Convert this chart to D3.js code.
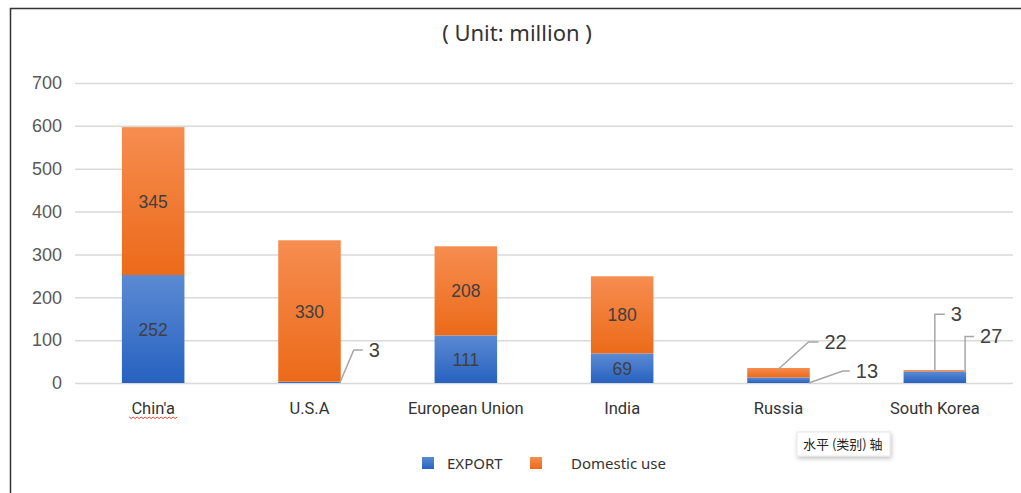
<!DOCTYPE html>
<html><head><meta charset="utf-8">
<script src="https://cdn.jsdelivr.net/npm/d3@7/dist/d3.min.js"></script>
<style>
html,body{margin:0;padding:0;background:#fff;}
svg{display:block;}
</style></head>
<body>
<svg id="chart" width="1021" height="493"></svg>
<script>
const categories = ["Chin'a", "U.S.A", "European Union", "India", "Russia", "South Korea"];
const exportValues = [252, 3, 111, 69, 13, 27];
const domesticValues = [345, 330, 208, 180, 22, 3];
const yTicks = [0, 100, 200, 300, 400, 500, 600, 700];
const seriesNames = ["EXPORT", "Domestic use"];
const titleText = "( Unit: million )";
const tooltipText = "水平 (类别) 轴";

const svg = d3.select("#chart");
const W = 1021, H = 493;
const plot = {left: 75, right: 1013, top: 83, bottom: 383};

// frame
svg.append("line").attr("x1", 10).attr("x2", W).attr("y1", 8.5).attr("y2", 8.5)
  .attr("stroke", "#333").attr("stroke-width", 1.5);
svg.append("line").attr("x1", 10.5).attr("x2", 10.5).attr("y1", 8).attr("y2", H)
  .attr("stroke", "#333").attr("stroke-width", 1.5);

const defs = svg.append("defs");
function grad(id, top, bottom) {
  const g = defs.append("linearGradient").attr("id", id)
    .attr("x1", 0).attr("y1", 0).attr("x2", 0).attr("y2", 1);
  g.append("stop").attr("offset", "0%").attr("stop-color", top);
  g.append("stop").attr("offset", "100%").attr("stop-color", bottom);
}
grad("gBlue", "#5b8ad3", "#2762c0");
grad("gOrange", "#f68d50", "#ec6a19");
const fs = defs.append("filter").attr("id", "shadow").attr("x", "-20%").attr("y", "-30%").attr("width", "140%").attr("height", "180%");
fs.append("feDropShadow").attr("dx", 1).attr("dy", 2).attr("stdDeviation", 2).attr("flood-color", "#000").attr("flood-opacity", 0.25);

const x = d3.scaleBand().domain(categories).range([plot.left, plot.right]).paddingInner(0.6).paddingOuter(0.3);
const y = d3.scaleLinear().domain([0, 700]).range([plot.bottom, plot.top]);

// title
svg.append("text").attr("x", 517).attr("y", 41).attr("text-anchor", "middle")
  .attr("font-family", "Noto Sans, sans-serif").attr("font-size", 22)
  .attr("fill", "#333").text(titleText);

// grid + y axis
const yAxis = d3.axisLeft(y).tickValues(yTicks).tickSize(-(plot.right - plot.left)).tickPadding(13);
const gy = svg.append("g").attr("transform", `translate(${plot.left},0)`).call(yAxis);
gy.select(".domain").remove();
gy.selectAll(".tick line").attr("stroke", "#d9d9d9").attr("stroke-width", 1.5);
gy.selectAll(".tick text").attr("font-family", "Liberation Sans, Arial, sans-serif")
  .attr("font-size", 18).attr("fill", "#595959");

// x labels
const gx = svg.append("g").attr("transform", `translate(0,${plot.bottom})`)
  .call(d3.axisBottom(x).tickSize(0).tickPadding(19));
gx.select(".domain").remove();
gx.selectAll(".tick text").attr("font-family", "Roboto, sans-serif").attr("font-size", 16.5).attr("fill", "#333");

// red squiggle under first label
{
  const cx = x(categories[0]) + x.bandwidth() / 2;
  const x0 = cx - 24, x1 = cx + 24, yy = plot.bottom + 34;
  let d = `M${x0},${yy}`;
  for (let xx = x0, i = 0; xx < x1; xx += 2, i++) d += ` L${xx + 2},${yy + (i % 2 ? 0 : 1.6)}`;
  svg.append("path").attr("d", d).attr("fill", "none").attr("stroke", "#e0302a").attr("stroke-width", 0.9);
}

// stacked data
const rows = categories.map((c, i) => ({cat: c, EXPORT: exportValues[i], "Domestic use": domesticValues[i]}));
const stack = d3.stack().keys(seriesNames)(rows);
const fills = {"EXPORT": "url(#gBlue)", "Domestic use": "url(#gOrange)"};

stack.forEach(layer => {
  svg.append("g").selectAll("rect").data(layer).join("rect")
    .attr("x", d => x(d.data.cat))
    .attr("width", x.bandwidth())
    .attr("y", d => y(d[1]))
    .attr("height", d => y(d[0]) - y(d[1]))
    .attr("fill", fills[layer.key]);
});

// inside labels for large segments
const labelFont = "Liberation Sans, Arial, sans-serif";
stack.forEach(layer => {
  svg.append("g").selectAll("text").data(layer.filter(d => d[1] - d[0] >= 50)).join("text")
    .attr("x", d => x(d.data.cat) + x.bandwidth() / 2)
    .attr("y", d => (y(d[0]) + y(d[1])) / 2 + 6.5)
    .attr("text-anchor", "middle").attr("font-family", labelFont)
    .attr("font-size", 17.5).attr("fill", "#404040")
    .text(d => d[1] - d[0]);
});

// callout labels for small segments
const callouts = [
  {ci: 1, li: 0, ax: 1.0, ay: "bottom", ex: 14, ey: -33, h: 9},
  {ci: 4, li: 1, ax: 0.5, ay: "top", ex: 30, ey: -27, h: 10},
  {ci: 4, li: 0, ax: 1.0, ay: "bottom", ex: 34, ey: -12, h: 7},
  {ci: 5, li: 1, ax: 0.5, ay: "top", ex: 0, ey: -57, h: 10},
  {ci: 5, li: 0, ax: 1.0, ay: "top", ex: 0, ey: -36, h: 9}
];
const cg = svg.append("g");
callouts.forEach(c => {
  const d = stack[c.li][c.ci];
  const bx = x(d.data.cat) + x.bandwidth() * c.ax - (c.ax === 1 ? 1 : 0);
  const by = c.ay === "bottom" ? y(d[0]) : y(d[1]) + 1;
  const ex = bx + c.ex, ey = by + c.ey;
  cg.append("path").attr("d", `M${bx},${by} L${ex},${ey} L${ex + c.h},${ey}`)
    .attr("fill", "none").attr("stroke", "#a6a6a6").attr("stroke-width", 1.5);
  cg.append("text").attr("x", ex + c.h + 6).attr("y", ey + 7)
    .attr("font-family", labelFont).attr("font-size", 20).attr("fill", "#404040")
    .text(d[1] - d[0]);
});

// legend
const legend = svg.append("g");
const legendItems = [
  {name: seriesNames[0], fill: "url(#gBlue)", sx: 422, tx: 447},
  {name: seriesNames[1], fill: "url(#gOrange)", sx: 530, tx: 571}
];
legendItems.forEach(it => {
  legend.append("rect").attr("x", it.sx).attr("y", 457).attr("width", 12).attr("height", 12).attr("fill", it.fill);
  legend.append("text").attr("x", it.tx).attr("y", 468.5).attr("font-family", "Noto Sans, sans-serif")
    .attr("font-size", 15).attr("fill", "#333").text(it.name);
});

// tooltip
const tt = svg.append("g").attr("transform", "translate(797,432)");
tt.append("rect").attr("width", 93).attr("height", 24).attr("fill", "#fff").attr("stroke", "#e6e6e6").attr("filter", "url(#shadow)");
tt.append("text").attr("x", 6).attr("y", 17).attr("font-family", "Noto Sans CJK SC, sans-serif")
  .attr("font-size", 13).attr("fill", "#222").text(tooltipText);
</script>
</body></html>
